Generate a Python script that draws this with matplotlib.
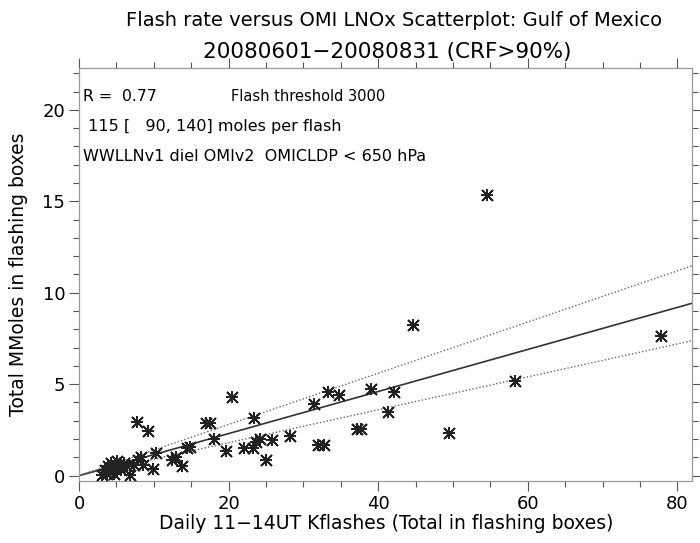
import numpy as np
import matplotlib.pyplot as plt
from matplotlib.ticker import MultipleLocator

# daily flashes (Kflashes) vs total MMoles
kflashes = [
    3.0, 3.4, 3.7, 3.9, 4.1, 4.3, 4.5, 4.7, 4.9, 5.1, 5.3, 5.6, 6.0, 6.4,
    6.8, 7.3, 7.7, 7.9, 8.3, 8.5, 9.2, 9.9, 10.3, 12.4, 12.9, 13.7, 14.4,
    14.8, 17.0, 17.5, 18.1, 19.6, 20.5, 22.0, 23.2, 23.4, 23.7, 24.2, 25.0,
    25.8, 28.2, 31.4, 32.0, 32.8, 33.3, 34.8, 37.1, 37.7, 39.1, 41.3, 42.1,
    44.6, 49.4, 54.6, 58.3, 77.8,
]
mmoles = [
    0.05, 0.3, 0.1, 0.5, 0.2, 0.7, 0.4, 0.1, 0.6, 0.8, 0.45, 0.3, 0.7, 0.5,
    0.05, 0.6, 2.95, 0.85, 1.0, 0.6, 2.45, 0.35, 1.25, 0.85, 1.0, 0.5, 1.5,
    1.55, 2.9, 2.9, 2.0, 1.35, 4.3, 1.5, 1.5, 3.15, 1.85, 2.0, 0.85,
    1.95, 2.15, 3.9, 1.65, 1.65, 4.55, 4.4, 2.55, 2.55, 4.75, 3.5, 4.6,
    8.25, 2.35, 15.35, 5.15, 7.65,
]

# fit: 115 [90, 140] moles per flash -> MMoles per Kflash
slope = 0.115
slope_lo = 0.090
slope_hi = 0.140

title1 = "Flash rate versus OMI LNOx Scatterplot: Gulf of Mexico"
title2 = "20080601\u221220080831 (CRF>90%)"
r_text = "R =  0.77"
threshold_text = "Flash threshold 3000"
info_lines = [
    " 115 [   90, 140] moles per flash",
    "WWLLNv1 diel OMIv2  OMICLDP < 650 hPa",
]

plt.rcParams["font.family"] = ["DejaVu Sans"]

fig = plt.figure(figsize=(7.0, 5.43), dpi=100)
ax = fig.add_axes([0.113, 0.114, 0.876, 0.761])

xmax = 82.0
xs = np.array([0.0, xmax])
ax.plot(xs, slope * xs, color="#333333", lw=1.2, zorder=2)
ax.plot(xs, slope_hi * xs, color="#666666", lw=1.0, ls=(0, (1, 1.5)), zorder=2)
ax.plot(xs, slope_lo * xs, color="#666666", lw=1.0, ls=(0, (1, 1.5)), zorder=2)

ax.plot(kflashes, mmoles, ls="none", marker=(4, 2, 0), ms=9, mew=1.3,
        color="#222222", zorder=3)
ax.plot(kflashes, mmoles, ls="none", marker=(4, 2, 45), ms=11, mew=1.3,
        color="#222222", zorder=3)

ax.set_xlim(0, xmax)
ax.set_ylim(-0.3, 22.3)
ax.xaxis.set_major_locator(MultipleLocator(20))
ax.xaxis.set_minor_locator(MultipleLocator(5))
ax.yaxis.set_major_locator(MultipleLocator(5))
ax.yaxis.set_minor_locator(MultipleLocator(1))
ax.tick_params(which="both", direction="out", top=True, right=True,
               labelsize=13, color="#555555")
ax.tick_params(which="major", length=7, width=0.8, pad=3)
ax.tick_params(which="minor", length=4, width=0.8)
for s in ax.spines.values():
    s.set_color("#999999")
    s.set_linewidth(0.9)

ax.set_xlabel("Daily 11\u221214UT Kflashes (Total in flashing boxes)",
              fontsize=13.5, labelpad=1)
ax.set_ylabel("Total MMoles in flashing boxes", fontsize=13.5, labelpad=10)

fig.text(0.563, 0.962, title1, ha="center", va="center", fontsize=14)
fig.text(0.553, 0.905, title2, ha="center", va="center", fontsize=15.5)

ax.text(0.006, 0.93, r_text, transform=ax.transAxes,
        fontsize=11.3, ha="left", va="center")
ax.text(0.248, 0.93, threshold_text, transform=ax.transAxes,
        fontsize=10.5, ha="left", va="center")
for i, line in enumerate(info_lines):
    ax.text(0.006, 0.858 - i * 0.072, line, transform=ax.transAxes,
            fontsize=11.5, ha="left", va="center")

fig.savefig("out.png", dpi=100)
